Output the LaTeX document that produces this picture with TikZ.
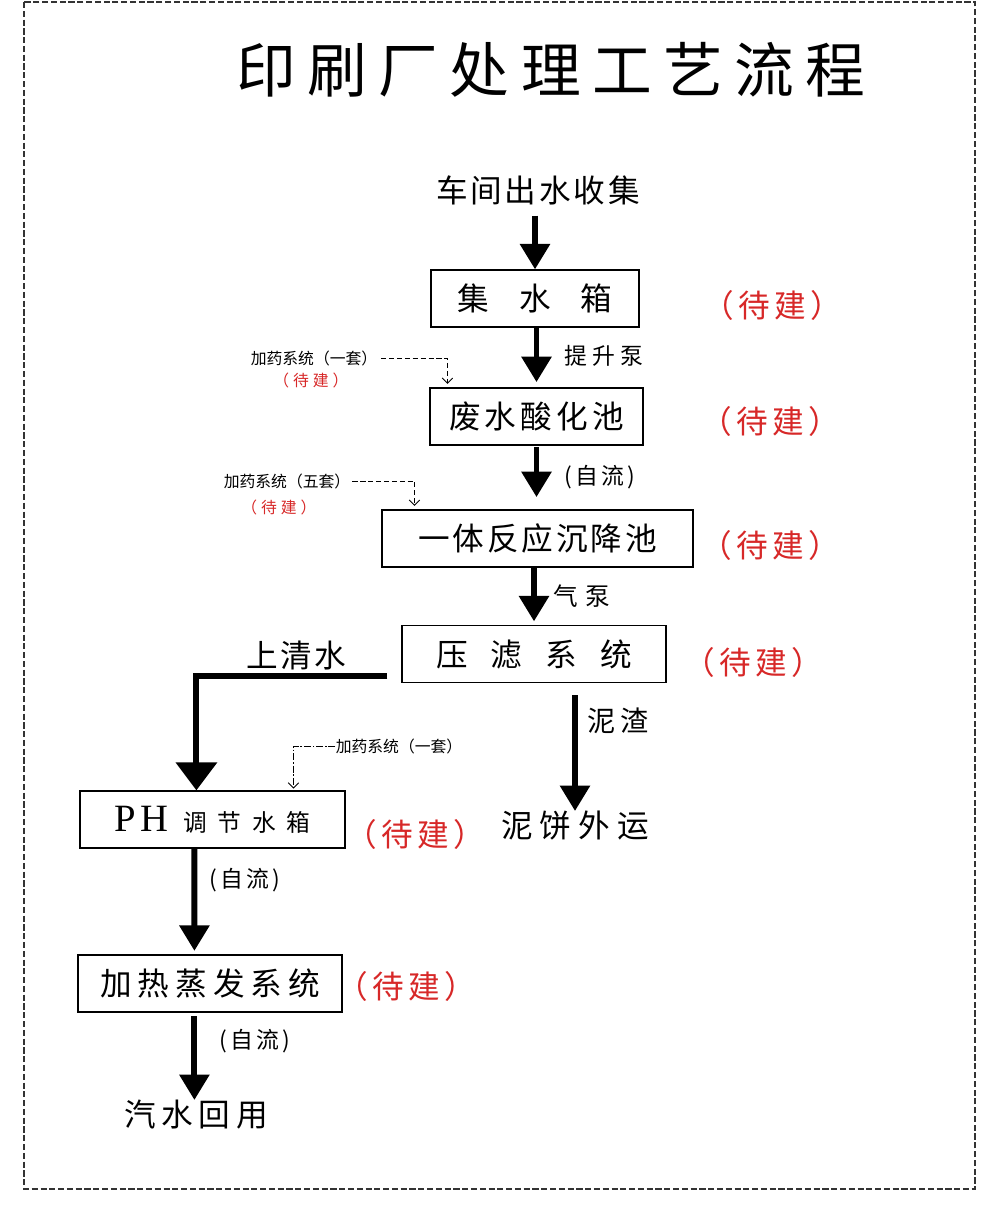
\documentclass[tikz,border=0pt]{standalone}
\usepackage{fontspec}
\setmainfont{Noto Sans CJK SC}
\newfontfamily\phfont{Liberation Serif}
\usetikzlibrary{arrows.meta,calc}
\definecolor{tbdred}{RGB}{215,40,40}
\newcommand{\ls}[1]{\addfontfeature{LetterSpace=#1}}
\tikzset{
	box/.style={draw, line width=0.7pt, minimum height=1.14cm, inner sep=0pt, font=\fontsize{18}{20}\selectfont},
	word/.style={inner sep=0pt, font=\fontsize{18}{20}\selectfont},
	note/.style={inner sep=0pt, font=\fontsize{13}{15}\selectfont},
	tbd/.style={inner sep=0pt, text=tbdred, font=\fontsize{18}{20}\selectfont\addfontfeature{LetterSpace=14}},
	dosing/.style={inner sep=0pt, font=\fontsize{9}{10}\selectfont},
	flow/.style={line width=3.4pt, -{Triangle[width=16.5pt,length=14.5pt]}},
	bigflow/.style={line width=3.4pt, -{Triangle[width=23pt,length=16pt]}},
	feed/.style={line width=0.5pt, dash pattern=on 3pt off 1.5pt, -{Straight Barb[width=6pt,length=3pt]}},
}

\begin{document}
\begin{tikzpicture}[x=0.02cm, y=-0.02cm]
			%%%%% START %%%%%
			
			\useasboundingbox (0,0) rectangle (1000,1220);
			\draw[line width=0.8pt, black!80, dash pattern=on 3.5pt off 1.5pt] (24,2) rectangle (975,1189);
			
			\node[word, font=\fontsize{34}{36}\selectfont] (title) at (551,70) {\ls{19}印刷厂处理工艺流程};
			
			\node[word] (src) at (538,190) {\ls{9}车间出水收集};
			\node[box, minimum width=4.16cm] (collect) at (535,298.5) {\ls{95}集水箱};
			\node[tbd] (tbd1) at (772,305) {（待建）};
			
			\node[box, minimum width=4.26cm] (acid) at (536.5,416.5) {\ls{13}废水酸化池};
			\node[tbd] (tbd2) at (770,421) {（待建）};
			
			\node[box, minimum width=6.22cm] (react) at (537.5,538.5) {\ls{9}一体反应沉降池};
			\node[tbd] (tbd3) at (770,545) {（待建）};
			
			\node[box, minimum width=5.28cm] (press) at (534,654) {\ls{73}压滤系统};
			\node[tbd] (tbd4) at (753,662) {（待建）};
			\node[word] (cake) at (575,826) {\ls{22}泥饼外运};
			
			\node[box, minimum width=5.3cm] (ph) at (212.5,819.5) {{\phfont\fontsize{22}{24}\selectfont\ls{12}PH}\hspace{0.3cm}{\fontsize{13.5}{15}\selectfont\ls{45}调节水箱}};
			\node[tbd] (tbd5) at (415,834) {（待建）};
			
			\node[box, minimum width=5.28cm] (heat) at (210,983.5) {\ls{19}加热蒸发系统};
			\node[tbd] (tbd6) at (406,986) {（待建）};
			\node[word] (reuse) at (196,1115) {\ls{18}汽水回用};
			
			% labels on the arrows
			\node[note] (lift) at (604,356) {\ls{24}提升泵};
			\node[note] (self1) at (600,477) {\ls{15}(自流)};
			\node[note, font=\fontsize{14}{16}\selectfont] (air) at (582,596) {\ls{32}气泵};
			\node[word, font=\fontsize{16}{18}\selectfont] (mud) at (618,721) {\ls{20}泥渣};
			\node[word] (clear) at (296,655) {\ls{8}上清水};
			\node[note] (self2) at (245,880) {\ls{15}(自流)};
			\node[note] (self3) at (255,1041) {\ls{15}(自流)};
			
			% dosing units
			\node[dosing] (dose1) at (314,358) {加药系统（一套）};
			\node[dosing, text=tbdred] (dose1tbd) at (311,380) {\ls{25}（待建）};
			\node[dosing] (dose2) at (287,481) {加药系统（五套）};
			\node[dosing, text=tbdred] (dose2tbd) at (279,507) {\ls{25}（待建）};
			\node[dosing] (dose3) at (399,746) {加药系统（一套）};
			
			\coordinate (clearout) at ($(press.west)+(-14,22)$);
			\coordinate (phin) at ($(ph.north west)+(117,0)$);
			\coordinate (phout) at ($(ph.south west)+(115,0)$);
			\coordinate (heatin) at ($(heat.north west)+(117,0)$);
			\coordinate (heatout) at ($(heat.south west)+(117,0)$);
			
			\draw[flow, shorten <=6pt] (src.south -| collect.north) -- (collect.north);
			\draw[flow, shorten >=3pt] (collect.south -| acid.north) -- (acid.north);
			\draw[flow, shorten <=1pt, shorten >=7pt] (acid.south) -- (acid.south |- react.north);
			\draw[flow, shorten >=2pt] (react.south -| press.north) -- (press.north);
			\draw[flow, shorten <=7pt] (press.south -| cake.north) -- (cake.north);
			\draw[bigflow] (clearout) -| (phin);
			\draw[flow, shorten >=2pt] (phout) -- (heatin);
			\draw[flow, shorten <=2pt] (heatout) -- (heatout |- reuse.north);
			
			\draw[feed, shorten <=2pt, shorten >=2pt] (dose1.east) -| ($(acid.north west)+(18,0)$);
			\draw[feed, shorten <=1pt, shorten >=2pt] (dose2.east) -| ($(react.north west)+(33,0)$);
			\draw[feed, dash pattern=on 4pt off 1pt on 1pt off 1pt, shorten >=1pt] (dose3.west) -| ($(ph.north west)+(214,0)$);
			
			%%%%% END %%%%%
		\end{tikzpicture}
\end{document}
